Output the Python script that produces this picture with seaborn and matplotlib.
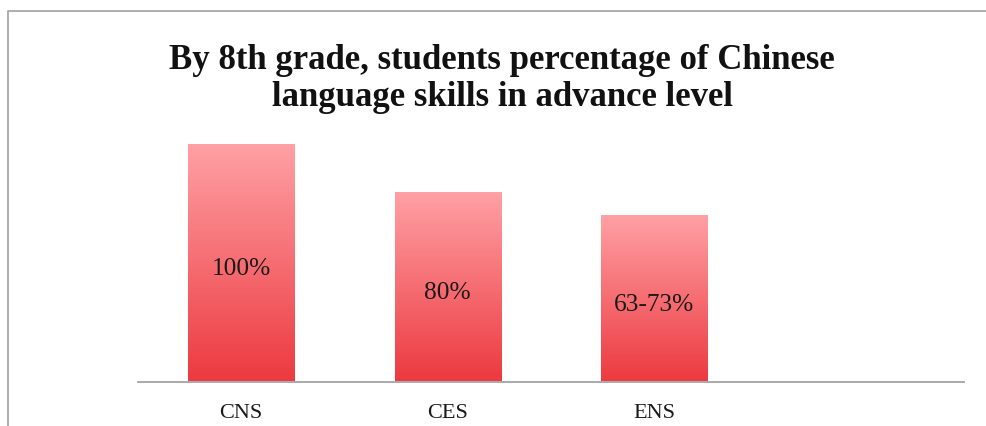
import numpy as np
import pandas as pd
import matplotlib
matplotlib.use("Agg")
import matplotlib.pyplot as plt
from matplotlib.lines import Line2D
import seaborn as sns

# Chart data
categories = ["CNS", "CES", "ENS"]
values = [100, 80, 70]
value_labels = ["100%", "80%", "63-73%"]
title = "By 8th grade, students percentage of Chinese\nlanguage skills in advance level"

sns.set_theme(style="white")
plt.rcParams["font.family"] = ["Liberation Serif", "DejaVu Serif"]

W, H = 987, 426
fig = plt.figure(figsize=(W / 100, H / 100), dpi=100)
fig.patch.set_facecolor("white")

# axes placed in pixel terms: baseline at y=381.5, 100% at y=144.3
ax = fig.add_axes([138 / W, 1 - 381.5 / H, 826 / W, (381.5 - 144.3) / H])

df = pd.DataFrame({"school": categories, "pct": values})
sns.barplot(data=df, x="school", y="pct", order=categories, color="#f06066",
            width=0.514, ax=ax, errorbar=None)

# vertical red gradient fill, light at the top and deeper at the base
top = np.array([255, 161, 165]) / 255
bot = np.array([236, 58, 64]) / 255
t = np.linspace(0, 1, 256)[:, None]
grad = (top * (1 - t) + bot * t)[:, None, :]

for patch in ax.patches:
    x0 = patch.get_x()
    w = patch.get_width()
    h = patch.get_height()
    patch.set_facecolor("none")
    patch.set_edgecolor("none")
    im = ax.imshow(grad, extent=(x0, x0 + w, 0, h), aspect="auto",
                   origin="upper", zorder=2, interpolation="bilinear")
    im.set_clip_path(patch)

# room for a fourth, empty category slot on the right
ax.set_xlim(-0.5, 3.5)
ax.set_ylim(0, 100)

# value labels in the middle of each bar
for i, (v, lab) in enumerate(zip(values, value_labels)):
    ax.text(i, v / 2 - 2.6, lab, ha="center", va="center", fontsize=18.3,
            color="#1a1a1a", zorder=3)

for side in ["top", "right", "left"]:
    ax.spines[side].set_visible(False)
ax.spines["bottom"].set_color("#a3a3a3")
ax.spines["bottom"].set_linewidth(1.3)
ax.set_yticks([])
ax.set_xlabel("")
ax.set_ylabel("")
ax.tick_params(axis="x", length=0, pad=16.5, labelsize=16, labelcolor="#1a1a1a")
ax.set_facecolor("none")

fig.text(502 / W, 1 - 105.5 / H, title, ha="center", va="baseline",
         fontsize=25, fontweight="bold", color="#111111",
         multialignment="center", linespacing=1.15)

# chart frame: left and top edges
frame = Line2D([8 / W, 8 / W, 1.0], [0.0, 1 - 10.7 / H, 1 - 10.7 / H],
               transform=fig.transFigure, color="#a0a0a0", lw=1.2)
fig.add_artist(frame)

fig.savefig("out.png", dpi=100, facecolor="white")
